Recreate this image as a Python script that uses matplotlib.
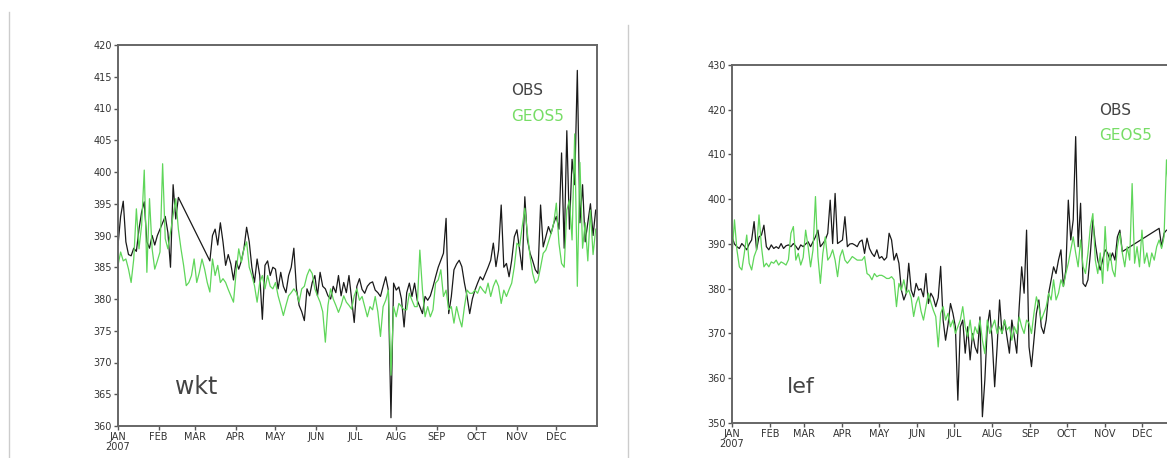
import numpy as np
import matplotlib
matplotlib.use('Agg')
from matplotlib import pyplot as plt
from matplotlib.lines import Line2D

# month labels / positions (day of year 2007)
month_days = [0, 31, 59, 90, 120, 151, 181, 212, 243, 273, 304, 334]
month_labels = ['JAN\n2007', 'FEB', 'MAR', 'APR', 'MAY', 'JUN',
                'JUL', 'AUG', 'SEP', 'OCT', 'NOV', 'DEC']

# ---- wkt : observed (gap mid Feb - early Mar) ----
wkt_obs_days = np.r_[np.arange(0, 47, 2), np.arange(70, 365, 2)]
wkt_obs = [
    388.5, 393, 395.4, 389, 387, 386.8, 388, 387.5, 391, 393.7,
    395.3, 389, 388, 390, 388.5, 390, 391, 392, 393, 390.5,
    385, 398, 392.6, 396,
    # day 70 on
    386, 390, 391, 388.5, 392, 389, 385.3, 387, 385.5, 383,
    386, 384.7, 386, 388, 391.3, 389, 385, 382.6, 386.3, 383.7,
    376.8, 385.3, 386, 383.7, 385, 384.7, 381.6, 384.2, 382, 381,
    383.7, 385, 388, 381.6, 379, 378, 376.6, 381.6, 380.5, 382.6,
    383.7, 380.5, 384.2, 382, 381.6, 380.5, 380, 382, 381, 383.7,
    380.5, 382.6, 381, 383.7, 380, 376.3, 382, 383.2, 381.5, 380.9,
    382, 382.5, 382.7, 381.4, 381, 380.4, 382, 383.5, 381.4, 361.3,
    382.5, 381.4, 381.9, 380, 375.6, 381, 382.5, 380.4, 382.5, 379.8,
    378.8, 377.7, 380.4, 379.8, 380.5, 381.9, 383.5, 385, 386.1, 387.2,
    392.7, 377.7, 380.4, 384.6, 385.5, 386.1, 385.1, 382.5, 380.4, 377.7,
    380, 381.4, 382.5, 383.5, 383, 384, 385, 386.1, 388.8, 385.1,
    387.7, 394.8, 385, 385.6, 383.5, 386.1, 389.8, 390.9, 387.7, 384.6,
    396.1, 389.3, 387.2, 386, 384.6, 384, 394.8, 388.2, 389.8, 391.4,
    390.3, 391.9, 393, 391, 403, 388, 406.5, 391, 402, 398,
    416, 392, 398, 389, 392, 395, 390, 394,
]

# ---- wkt : GEOS5 ----
wkt_geos_days = np.arange(0, 365, 2)
wkt_geos = [
    385.3, 387.4, 386, 386.3, 384.7, 382.6, 386.3, 394.2, 387.9, 391.6,
    400.3, 384.2, 395.8, 387.9, 384.7, 386, 387.4, 401.3, 389.5, 387.9,
    390.5, 393.2, 395.8, 391, 387.9, 385.3, 382.1, 382.6, 383.7, 386.3,
    382.6, 384.2, 386.3, 384.7, 382.6, 381.1, 386.3, 383.7, 385.3, 382.6,
    383.2, 382.6, 381.5, 380.5, 379.5, 384.2, 387.9, 385.8, 387.9, 389,
    385, 383.7, 382.1, 379.5, 382.6, 383.7, 381.6, 383.7, 382, 381.6,
    382.6, 380.5, 379, 377.4, 379, 380.5, 381, 381.6, 381, 379.5,
    381.6, 382, 383.7, 384.7, 384, 381.6, 380.5, 379.5, 378, 373.2,
    379, 381.6, 380, 379, 377.9, 379, 380.5, 379.5, 379, 378.4,
    380.5, 381.6, 379.8, 380.4, 378.8, 377.2, 378.8, 378.3, 380.4, 378,
    374.1, 378.8, 379.8, 381.4, 368, 378.8, 377.2, 379.3, 378.8, 378.3,
    378.3, 380.9, 379.8, 378.8, 378.8, 387.7, 381.4, 377.2, 378.8, 377.2,
    378.3, 382.5, 383, 384.6, 380.4, 381.4, 378.3, 378.8, 376.2, 378.8,
    377, 375.6, 378.8, 381.4, 380.9, 380.9, 381.4, 380.9, 382, 381.4,
    380.9, 382.5, 380.4, 382, 383, 382, 379.3, 381.4, 380.4, 381.5,
    382.5, 385.1, 388.8, 388.3, 391.4, 394.3, 390.3, 386.7, 384, 382.5,
    383, 385, 387.2, 387.7, 389, 390.3, 391.9, 395.1, 388.8, 385.6,
    385, 394, 395.6, 389.3, 406, 382, 401.5, 388, 392, 386,
    394, 387, 391,
]

# ---- lef : observed (gap mid Nov - late Dec) ----
lef_obs_days = np.r_[np.arange(0, 319, 2), np.arange(348, 357, 2)]
lef_obs = [
    391.6, 390, 389.4, 389, 390.1, 389.5, 388.7, 390, 390.9, 395,
    388.7, 391.6, 392, 394.2, 389.4, 388.7, 389.8, 389, 389.4, 389,
    390.1, 389, 389.6, 389.8, 389.4, 390.1, 389.5, 388.7, 389.8, 389.4,
    390, 390.5, 389.4, 390.5, 391.6, 393.1, 389.4, 390.1, 390.9, 392.4,
    399.8, 390.1, 401.3, 390.1, 390.5, 390.9, 396.1, 389.4, 390, 390.1,
    389.8, 389.4, 390.5, 390.9, 387.9, 391.3, 389, 387.9, 387.2, 388.7,
    386.8, 387.2, 386.4, 387, 392.4, 390.9, 386.4, 387.9, 385.7, 379.7,
    377.5, 379, 385.7, 379.7, 378.2, 381.2, 379.7, 380, 378.2, 383.4,
    376.7, 379, 378, 376, 378, 385, 373, 368.5, 372, 376.7,
    374.5, 371.5, 355.1, 371.5, 373, 365.6, 371.5, 364.1, 370, 367,
    365.6, 373.7, 351.4, 359.6, 371.5, 375.2, 368.5, 358.1, 367, 377.5,
    370, 373, 369.3, 365.6, 373, 369.3, 365.6, 376, 384.9, 379,
    393.1, 367, 362.6, 368.5, 374.5, 377.5, 371.5, 370, 373, 379,
    382, 384.9, 383.4, 386.4, 388.7, 380.5, 384.2, 399.8, 390.9, 395.4,
    414, 389.4, 399.1, 381.2, 380.5, 382, 388, 395.4, 390.1, 386.4,
    384.2, 386.4, 388.7, 388, 386.4, 388, 386.4, 391.6, 393.1, 388.3,
    # day 348 on
    393.5, 389.4, 392.4, 393.1, 393,
]

# ---- lef : GEOS5 ----
lef_geos_days = np.arange(0, 357, 2)
lef_geos = [
    387.2, 395.4, 388.7, 384.9, 384.2, 387.9, 392, 385.7, 384.2, 387.2,
    388.7, 396.5, 389.4, 384.9, 385.7, 384.9, 386, 385.7, 386.4, 385.3,
    386, 385.7, 385.3, 386.5, 392.4, 393.9, 386.4, 387.9, 385.3, 387,
    393.1, 389.4, 384.9, 388.7, 400.6, 387.2, 381.2, 387.9, 391.6, 386.4,
    387.2, 388.7, 386.4, 382.7, 387.2, 388.7, 386.4, 385.7, 386.4, 387.2,
    386.8, 386.4, 386.4, 386.4, 387.2, 383.4, 383, 382, 383.4, 382.7,
    383, 383, 382.7, 382.3, 382.3, 382.7, 382, 376, 381.2, 379.7,
    382, 379, 379.7, 378, 373.8, 376.7, 378.2, 375, 373, 376,
    379, 377, 375.2, 373.8, 367, 374.5, 376, 373, 374.5, 371.5,
    373, 370, 371.5, 373, 376, 371.5, 369.3, 373, 368.5, 371.5,
    370, 373, 368.5, 365.5, 373, 370, 371.5, 373, 370, 371.5,
    370, 373, 370.8, 371.5, 368.5, 371.5, 370, 373.7, 371.5, 370,
    373, 372.3, 370, 374.5, 378.2, 376, 373, 374.5, 376, 379,
    377.5, 382, 377.5, 379, 382, 380.5, 383.4, 385.7, 388.7, 391.6,
    388, 384.9, 390.9, 385, 383.4, 388, 393.9, 396.8, 386.4, 383.4,
    388, 381.2, 393.9, 384, 388, 384.2, 382.7, 389.4, 392.4, 388,
    384.9, 389.4, 386.4, 403.5, 385.7, 389.4, 384.9, 393.1, 385.7, 388,
    384.9, 388, 386.4, 389.4, 390.9, 389, 391.6, 408.8, 400,
]

OBS_C = '#1a1a1a'
GEOS_C = '#5fd65a'

W, H = 1167, 458
fig = plt.figure(figsize=(W / 100, H / 100), dpi=100)


def panel(rect, obs_d, obs, mod_d, mod, ylim, ystep, site, site_xy, leg_xy):
    ax = fig.add_axes(rect)
    ax.plot(obs_d, obs, color=OBS_C, lw=0.9)
    ax.plot(mod_d, mod, color=GEOS_C, lw=0.9)
    ax.set_xlim(0, 365)
    ax.set_ylim(*ylim)
    ax.set_yticks(np.arange(ylim[0], ylim[1] + 1, ystep))
    ax.set_xticks(month_days, month_labels)
    for s in ax.spines.values():
        s.set_color('#666666')
        s.set_linewidth(1.4)
    ax.tick_params(direction='out', length=3, width=1, color='#555555',
                   labelsize=7, labelcolor='#333333', pad=1.5)
    for lab in ax.get_xticklabels():
        lab.set_linespacing(0.95)
    ax.text(site_xy[0], site_xy[1], site, transform=ax.transAxes,
            fontsize=site_xy[2], color='#444444')
    ax.text(leg_xy[0], leg_xy[1], 'OBS', transform=ax.transAxes,
            fontsize=11, color='#444444')
    ax.text(leg_xy[0], leg_xy[2], 'GEOS5', transform=ax.transAxes,
            fontsize=11, color='#77dd66')
    return ax


# left panel: x 118..597 px, y 45..426 px
panel([118 / W, 1 - 426 / H, 479 / W, 381 / H],
      wkt_obs_days, wkt_obs, wkt_geos_days, wkt_geos,
      (360, 420), 5, 'wkt', (0.12, 0.085, 17), (0.82, 0.87, 0.8))

# right panel: x 732..1180 px (cut at the image edge), y 65..423 px
panel([732 / W, 1 - 423 / H, 448 / W, 358 / H],
      lef_obs_days, lef_obs, lef_geos_days, lef_geos,
      (350, 430), 10, 'lef', (0.123, 0.085, 16), (0.82, 0.86, 0.79))

# page / table rules
fig.add_artist(Line2D([8.5 / W] * 2, [0, 1 - 12 / H], transform=fig.transFigure,
                      color='#cccccc', lw=1))
fig.add_artist(Line2D([627.5 / W] * 2, [0, 1 - 25 / H], transform=fig.transFigure,
                      color='#cccccc', lw=1))

fig.savefig('out.png', dpi=100)
